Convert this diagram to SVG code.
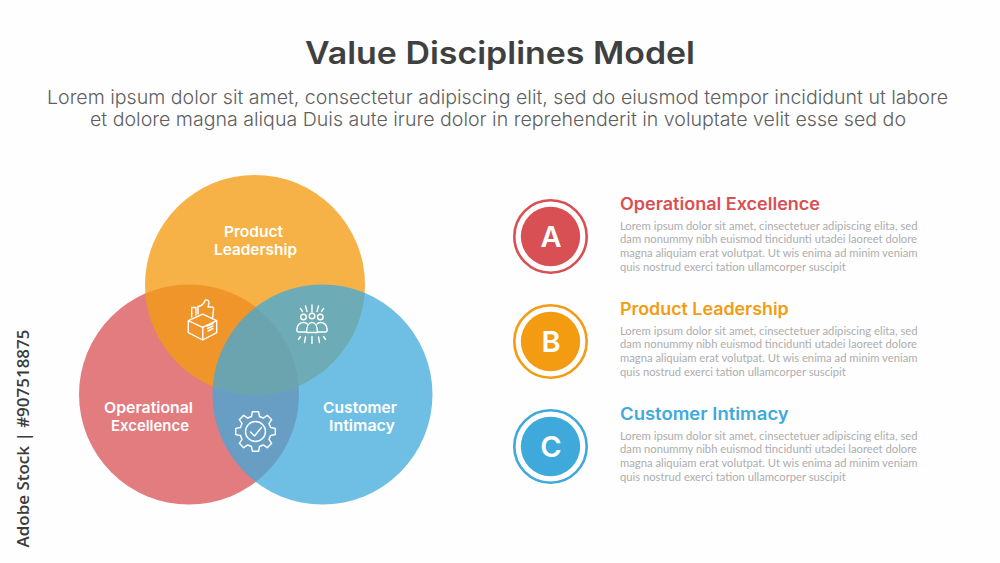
<svg xmlns="http://www.w3.org/2000/svg" width="1000" height="563" viewBox="0 0 1000 563">
<style>
text{font-family:"Inter","Noto Sans","Liberation Sans",sans-serif}
.title{font-size:31px;font-weight:600;fill:#404040;text-anchor:middle}
.sub{font-size:19px;font-weight:300;fill:#5f5f5f}
.lab{font-size:15px;font-weight:600;fill:#fff}
.head{font-size:17px;font-weight:600}
.body{font-family:"Lato","Liberation Sans",sans-serif;font-size:11.5px;fill:#adadad}
.let{font-size:29px;font-weight:600;fill:#fff;text-anchor:middle}
.ring{fill:none;stroke-width:2.6}
.ico{fill:none;stroke:#fff;stroke-width:1.4;stroke-linecap:round;stroke-linejoin:round}
</style>
<rect width="1000" height="563" fill="#fefefe"/>
<g id="heading">
<text class="title" x="500" y="63.500" textLength="390" lengthAdjust="spacingAndGlyphs">Value Disciplines Model</text>
<text class="sub" x="47" y="104" textLength="901" lengthAdjust="spacingAndGlyphs">Lorem ipsum dolor sit amet, consectetur adipiscing elit, sed do eiusmod tempor incididunt ut labore</text>
<text class="sub" x="90" y="126" textLength="816" lengthAdjust="spacingAndGlyphs">et dolore magna aliqua Duis aute irure dolor in reprehenderit in voluptate velit esse sed do</text>
</g>
<g id="venn">
<circle id="venn-operational" cx="189" cy="394.500" r="110" fill="#d85053" fill-opacity=".75"/>
<circle id="venn-product" cx="255" cy="285" r="110" fill="#f39c12" fill-opacity=".78"/>
<circle id="venn-customer" cx="322.500" cy="394.500" r="110" fill="#3fa9dc" fill-opacity=".75"/>
</g>
<g id="venn-labels">
<text class="lab" x="224" y="237" textLength="59" lengthAdjust="spacingAndGlyphs">Product</text>
<text class="lab" x="214" y="255" textLength="83" lengthAdjust="spacingAndGlyphs">Leadership</text>
<text class="lab" x="104" y="413" textLength="89" lengthAdjust="spacingAndGlyphs">Operational</text>
<text class="lab" x="111" y="430.500" textLength="78" lengthAdjust="spacingAndGlyphs">Excellence</text>
<text class="lab" x="323" y="413" textLength="74" lengthAdjust="spacingAndGlyphs">Customer</text>
<text class="lab" x="329" y="430.500" textLength="66" lengthAdjust="spacingAndGlyphs">Intimacy</text>
</g>
<g id="icon-box" class="ico">
<path d="M188.300 320.700L202.700 314.200L216.700 320.700L202.700 327.300ZM188.300 320.700V332.700L202.700 340L216.700 332.700V320.700M202.700 327.300V340"/>
<path d="M191.700 317V307.500H196V315M198 314V306.500C201 306 204 304.500 205 300.500C206 299.500 209 300 209 302.500C209 304 208.300 305.500 208 307H212C213.500 307 214 308.500 213.500 310L212.500 318.500"/>
<path d="M207 326L213 323.500M207.500 328.500L213 326M208 331L213 328.500"/>
</g>
<g id="icon-people" class="ico">
<circle cx="303.500" cy="317" r="2.800"/><circle cx="312" cy="316" r="2.800"/><circle cx="320.300" cy="317" r="2.800"/>
<path d="M306.500 332H298.500C297 332 296.500 331 297 329C297.500 325 300 322.500 303.500 322.500C305 322.500 306.500 323 307.500 324M317 324C318 323 319.500 322.500 320.500 322.500C324 322.500 326.500 325 327 329C327.500 331 327 332 325.500 332H317.500"/>
<path d="M306.500 332.500C306.500 326 309 322.500 312 322.500C315 322.500 317.500 326 317.500 332.500Z"/>
<path d="M312 305V312M305.500 306L307 311.500M318.500 306L317 311.500M300.500 308.500L302.500 311.500M323.500 308.500L321.500 311.500M312 336.500V343.500M305.500 337L304.500 342.500M318.500 337L319.500 342.500M300.500 336.500L298.500 339.500M323.500 336.500L325.500 339.500"/>
</g>
<g id="icon-gear" class="ico" transform="translate(255.500 431.500)">
<path d="M-4 -15L-3.100 -19.800H3.100L4 -15A15.500 15.500 0 0 1 7.780 -13.430L11.810 -16.190L16.190 -11.810L13.430 -7.780A15.500 15.500 0 0 1 15 -4L19.800 -3.100V3.100L15 4A15.500 15.500 0 0 1 13.430 7.780L16.190 11.810L11.810 16.190L7.780 13.430A15.500 15.500 0 0 1 4 15L3.100 19.800H-3.100L-4 15A15.500 15.500 0 0 1 -7.780 13.430L-11.810 16.190L-16.190 11.810L-13.430 7.780A15.500 15.500 0 0 1 -15 4L-19.800 3.100V-3.100L-15 -4A15.500 15.500 0 0 1 -13.430 -7.780L-16.190 -11.810L-11.810 -16.190L-7.780 -13.430A15.500 15.500 0 0 1 -4 -15Z"/>
<circle r="10"/>
<path d="M-5 .5L-1 4.500L6 -4"/>
</g>
<g id="item-a">
<circle class="ring" cx="550.500" cy="236.500" r="36.200" stroke="#d85053"/>
<circle cx="550.500" cy="236.500" r="29.700" fill="#d85053"/>
<text class="let" x="551" y="247">A</text>
<text class="head" x="620" y="210" fill="#d85053" textLength="200" lengthAdjust="spacingAndGlyphs">Operational Excellence</text>
<text class="body" x="620" y="229.500" textLength="297.500" lengthAdjust="spacingAndGlyphs">Lorem ipsum dolor sit amet, cinsectetuer adipiscing elita, sed</text>
<text class="body" x="620" y="243.300" textLength="297" lengthAdjust="spacingAndGlyphs">dam nonummy nibh euismod tincidunti utadei laoreet dolore</text>
<text class="body" x="620" y="257.100" textLength="297.500" lengthAdjust="spacingAndGlyphs">magna aliquiam erat volutpat. Ut wis enima ad minim veniam</text>
<text class="body" x="620" y="270.900" textLength="225.700" lengthAdjust="spacingAndGlyphs">quis nostrud exerci tation ullamcorper suscipit</text>
</g>
<g id="item-b">
<circle class="ring" cx="550.500" cy="341.500" r="36.200" stroke="#f39c12"/>
<circle cx="550.500" cy="341.500" r="29.700" fill="#f39c12"/>
<text class="let" x="551" y="352">B</text>
<text class="head" x="620" y="315" fill="#f39c12" textLength="168.700" lengthAdjust="spacingAndGlyphs">Product Leadership</text>
<text class="body" x="620" y="334.500" textLength="297.500" lengthAdjust="spacingAndGlyphs">Lorem ipsum dolor sit amet, cinsectetuer adipiscing elita, sed</text>
<text class="body" x="620" y="348.300" textLength="297" lengthAdjust="spacingAndGlyphs">dam nonummy nibh euismod tincidunti utadei laoreet dolore</text>
<text class="body" x="620" y="362.100" textLength="297.500" lengthAdjust="spacingAndGlyphs">magna aliquiam erat volutpat. Ut wis enima ad minim veniam</text>
<text class="body" x="620" y="375.900" textLength="225.700" lengthAdjust="spacingAndGlyphs">quis nostrud exerci tation ullamcorper suscipit</text>
</g>
<g id="item-c">
<circle class="ring" cx="550.500" cy="446.500" r="36.200" stroke="#3fa9dc"/>
<circle cx="550.500" cy="446.500" r="29.700" fill="#3fa9dc"/>
<text class="let" x="551" y="457">C</text>
<text class="head" x="620" y="420" fill="#3fa9dc" textLength="168.700" lengthAdjust="spacingAndGlyphs">Customer Intimacy</text>
<text class="body" x="620" y="439.500" textLength="297.500" lengthAdjust="spacingAndGlyphs">Lorem ipsum dolor sit amet, cinsectetuer adipiscing elita, sed</text>
<text class="body" x="620" y="453.300" textLength="297" lengthAdjust="spacingAndGlyphs">dam nonummy nibh euismod tincidunti utadei laoreet dolore</text>
<text class="body" x="620" y="467.100" textLength="297.500" lengthAdjust="spacingAndGlyphs">magna aliquiam erat volutpat. Ut wis enima ad minim veniam</text>
<text class="body" x="620" y="480.900" textLength="225.700" lengthAdjust="spacingAndGlyphs">quis nostrud exerci tation ullamcorper suscipit</text>
</g>
<text transform="translate(29 547.500) rotate(-90)" style="font-family:'Open Sans','Liberation Sans',sans-serif;font-size:17px;font-weight:600" fill="#3c3c3c" textLength="218" lengthAdjust="spacingAndGlyphs">Adobe Stock | #907518875</text>
</svg>
